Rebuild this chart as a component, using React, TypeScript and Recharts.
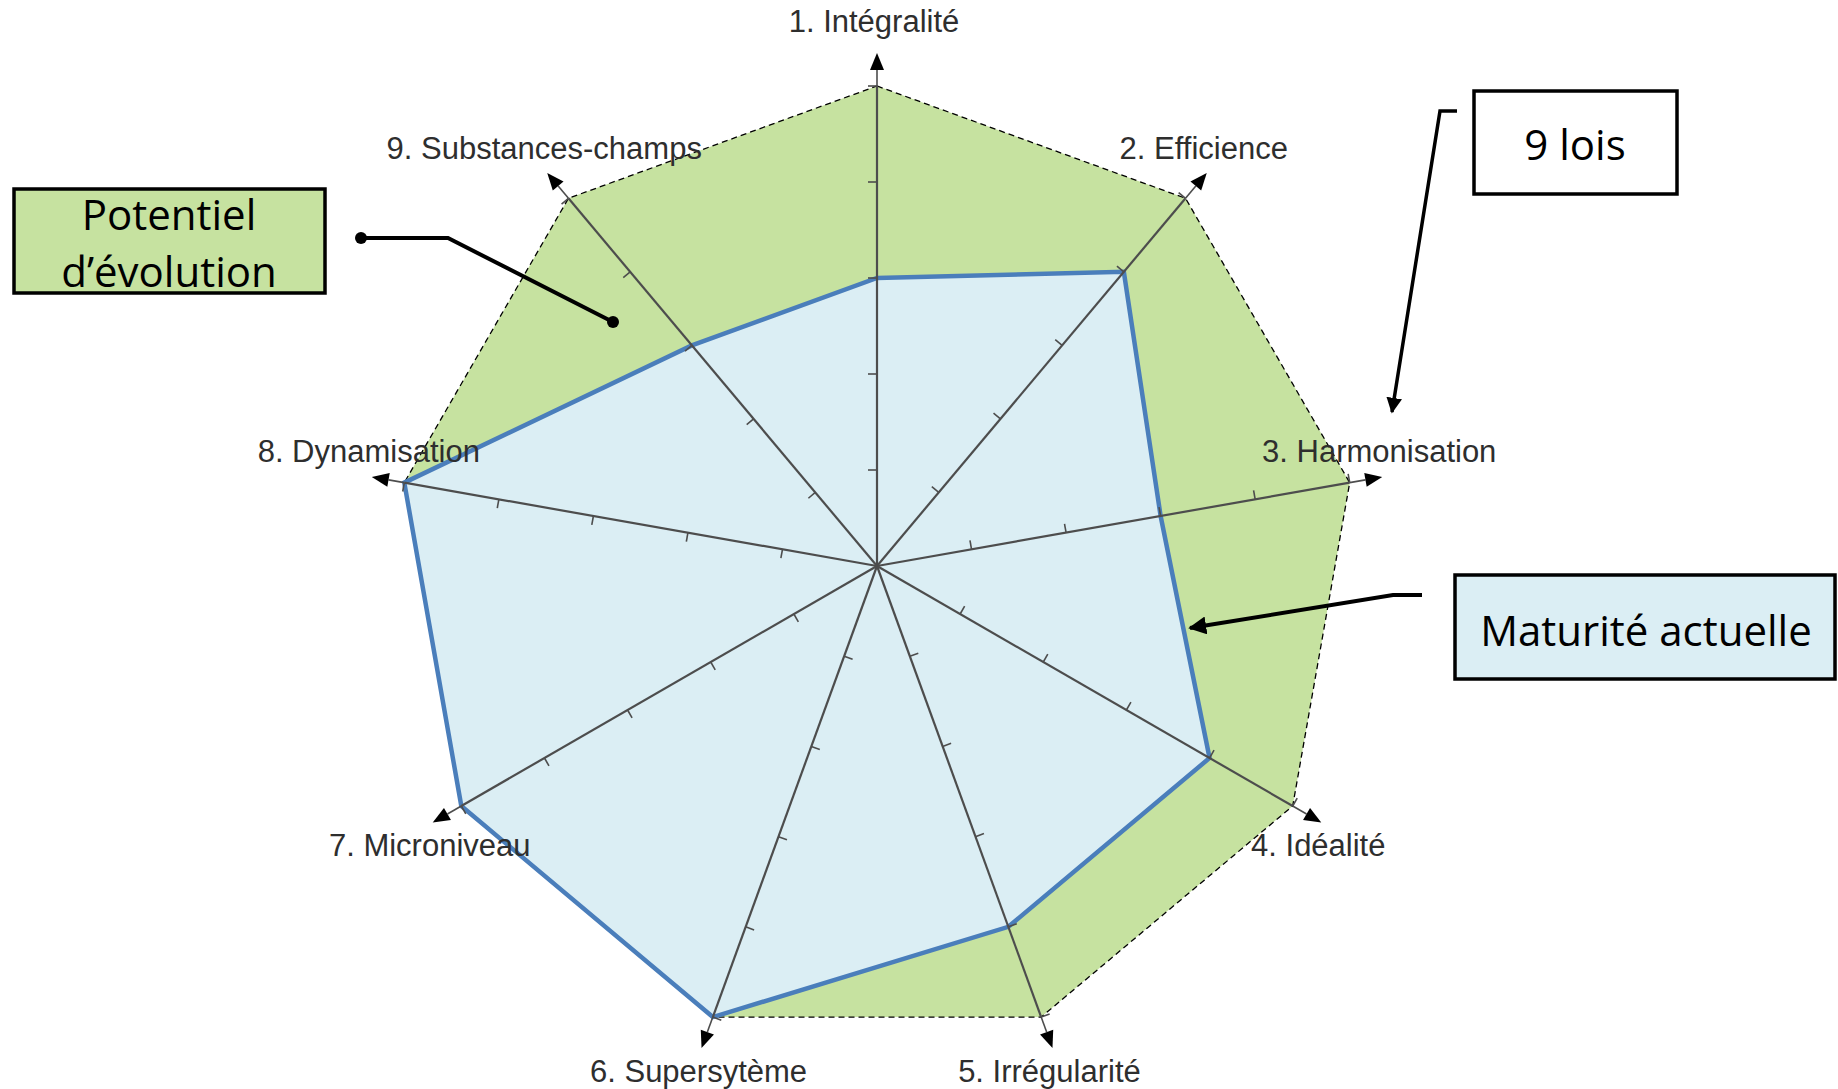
import { RadarChart, Radar, PolarAngleAxis, PolarRadiusAxis } from 'recharts'

// les 9 lois d'évolution
const laws = [
  '1. Intégralité',
  '2. Efficience',
  '3. Harmonisation',
  '4. Idéalité',
  '5. Irrégularité',
  '6. Supersytème',
  '7. Microniveau',
  '8. Dynamisation',
  '9. Substances-champs',
]
const potentiel = [5, 5, 5, 5, 5, 5, 5, 5, 5]
const maturite = [3, 4, 3, 4, 4, 5, 5, 5, 3]
const levels = [1, 2, 3, 4, 5]

const data = laws.map((law, i) => ({ law, potentiel: potentiel[i], maturite: maturite[i] }))

const W = 1838
const H = 1089
const CX = 877
const CY = 566
const R = 480
const MAX = 5
const TIP = 513

const GREEN = '#c6e2a0'
const BLUE_FILL = '#dbeef4'
const BLUE = '#4a7ebb'

function AxisTick(props: any) {
  const { payload } = props
  const rad = (-payload.coordinate * Math.PI) / 180
  const ux = Math.cos(rad)
  const uy = Math.sin(rad)
  const px = uy
  const py = -ux
  const tx = CX + ux * TIP
  const ty = CY + uy * TIP
  const bx = tx - ux * 17
  const by = ty - uy * 17

  // position du libellé par rapport à la pointe de flèche
  const dy = uy < -0.9 ? -32 : uy < 0 ? -25 : 23

  return (
    <g>
      <line x1={CX} y1={CY} x2={CX + ux * R} y2={CY + uy * R} stroke="#4d4d4d" strokeWidth={2.2} />
      <line x1={CX + ux * R} y1={CY + uy * R} x2={bx} y2={by} stroke="#4d4d4d" strokeWidth={1.6} />
      {levels.map(k => {
        const x = CX + (ux * R * k) / MAX
        const y = CY + (uy * R * k) / MAX
        return <line key={k} x1={x} y1={y} x2={x + px * 9} y2={y + py * 9} stroke="#4d4d4d" strokeWidth={1.6} />
      })}
      <polygon
        points={`${tx},${ty} ${bx + px * 7},${by + py * 7} ${bx - px * 7},${by - py * 7}`}
        fill="#000"
      />
      <text
        x={tx - 3}
        y={ty + dy}
        textAnchor="middle"
        dominantBaseline="central"
        fontFamily="'Liberation Sans', Arial, sans-serif"
        fontSize={31}
        fill="#2e2e2e"
      >
        {payload.value}
      </text>
    </g>
  )
}

export default function App() {
  return (
    <div style={{ position: 'absolute', left: 0, top: 0, width: W, height: H, background: '#fff' }}>
      <RadarChart
        width={W}
        height={H}
        data={data}
        cx={CX}
        cy={CY}
        outerRadius={R}
        margin={{ top: 0, right: 0, bottom: 0, left: 0 }}
      >
        <PolarRadiusAxis domain={[0, MAX]} tick={false} axisLine={false} />
        <Radar
          dataKey="potentiel"
          stroke="#000"
          strokeWidth={1.3}
          strokeDasharray="6 4"
          fill={GREEN}
          fillOpacity={1}
          dot={false}
          isAnimationActive={false}
        />
        <Radar
          dataKey="maturite"
          stroke={BLUE}
          strokeWidth={4.5}
          fill={BLUE_FILL}
          fillOpacity={1}
          dot={false}
          isAnimationActive={false}
        />
        <PolarAngleAxis dataKey="law" axisLine={false} tickLine={false} tick={<AxisTick />} />
      </RadarChart>

      <svg
        width={W}
        height={H}
        style={{ position: 'absolute', left: 0, top: 0, pointerEvents: 'none' }}
        fontFamily="'Open Sans', sans-serif"
      >
        <defs>
          <marker id="head" viewBox="0 0 10 10" refX="9" refY="5" markerWidth="4.5" markerHeight="4.5" orient="auto">
            <path d="M0,0 L10,5 L0,10 z" fill="#000" />
          </marker>
        </defs>

        {/* Potentiel d'évolution */}
        <rect x={14} y={189} width={311} height={104} fill={GREEN} stroke="#000" strokeWidth={3.5} />
        <text x={169} y={213} textAnchor="middle" dominantBaseline="central" fontSize={42} fill="#000">
          Potentiel
        </text>
        <text x={169} y={270} textAnchor="middle" dominantBaseline="central" fontSize={42} fill="#000">
          d’évolution
        </text>
        <polyline points="361,238 448,238 613,322" fill="none" stroke="#000" strokeWidth={4} />
        <circle cx={361} cy={238} r={6} fill="#000" />
        <circle cx={613} cy={322} r={6} fill="#000" />

        {/* 9 lois */}
        <rect x={1474} y={91} width={203} height={103} fill="#fff" stroke="#000" strokeWidth={3.5} />
        <text x={1575} y={143} textAnchor="middle" dominantBaseline="central" fontSize={42} fill="#000">
          9 lois
        </text>
        <polyline points="1457,111 1440,111 1392,412" fill="none" stroke="#000" strokeWidth={3.5} markerEnd="url(#head)" />

        {/* Maturité actuelle */}
        <rect x={1455} y={575} width={380} height={104} fill={BLUE_FILL} stroke="#000" strokeWidth={3.5} />
        <text x={1646} y={629} textAnchor="middle" dominantBaseline="central" fontSize={42} fill="#000">
          Maturité actuelle
        </text>
        <polyline points="1422,595 1393,595 1190,628" fill="none" stroke="#000" strokeWidth={4} markerEnd="url(#head)" />
      </svg>
    </div>
  )
}
